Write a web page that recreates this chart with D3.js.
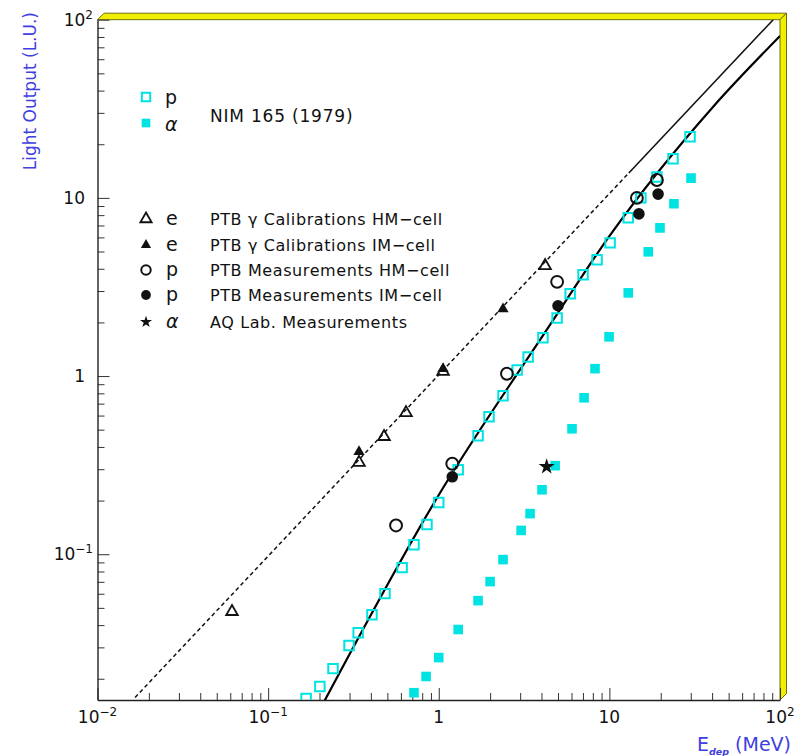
<!DOCTYPE html>
<html><head><meta charset="utf-8">
<script src="https://cdn.jsdelivr.net/npm/d3@7"></script>
<style>body{margin:0;background:#fff} svg{display:block} text{font-family:"DejaVu Sans",sans-serif}</style>
</head><body><svg id="c" width="809" height="756"></svg>
<script>
// ---------------- data (E in MeV, light output in L.U.) ----------------
const pNimE = [0.167,0.201,0.240,0.298,0.337,0.406,0.484,0.610,0.716,0.853,1.00,1.30,1.70,1.97,2.38,2.88,3.34,4.08,4.94,5.89,7.01,8.47,10.1,12.9,15.3,19.0,23.6,29.7];
const pNimL = [0.0155,0.0181,0.0228,0.0307,0.0363,0.0458,0.0601,0.0841,0.113,0.147,0.195,0.298,0.463,0.591,0.776,1.08,1.28,1.64,2.12,2.90,3.70,4.49,5.59,7.73,10.0,13.1,16.6,22.0];
const aNimE = [0.716,0.843,1.00,1.30,1.70,2.00,2.38,3.04,3.43,4.03,4.81,6.04,7.11,8.24,9.96,12.9,16.9,19.8,23.9,30.1];
const aNimL = [0.0167,0.0206,0.0263,0.0378,0.0549,0.0702,0.0933,0.136,0.169,0.230,0.314,0.506,0.755,1.10,1.66,2.93,4.98,6.79,9.26,12.9];
const eHmE = [0.0614,0.341,0.478,0.643,1.06,4.20];
const eHmL = [0.0476,0.327,0.457,0.622,1.06,4.16];
const eImE = [0.341,1.06,2.38];
const eImL = [0.376,1.10,2.38];
const pHmE = [0.562,1.20,2.51,4.94,14.5,19.0];
const pHmL = [0.145,0.322,1.03,3.38,10.0,12.6];
const pImE = [1.20,5.00,14.9,19.3];
const pImL = [0.272,2.48,8.13,10.5];
const aAqE = [4.29];
const aAqL = [0.310];
// fitted curves
const eFitDashE = [0.0166, 13];
const eFitDashL = [0.0157, 13.8];
const eFitSolidE = [13, 91.2];
const eFitSolidL = [13.8, 100];
const pFitE = [0.2, 1.0, 4.3, 10, 40.6, 100];
const pFitL = [0.0133, 0.215, 1.82, 6.1, 32.5, 81];
// tick labels
const xMajor = [0.01, 0.1, 1, 10, 100];
const xTickBase = ["10","10","1","10","10"];
const xTickSup = ["\u22122","\u22121","","","2"];
const yMajor = [0.1, 1, 10, 100];
const yTickBase = ["10","1","10","10"];
const yTickSup = ["\u22121","","","2"];
// legend
const legendNim = ["p", "\u03B1"];
const legendNimText = "NIM 165 (1979)";
const legendPtbSym = ["e","e","p","p","\u03B1"];
const legendPtbText = ["PTB \u03B3 Calibrations HM\u2212cell","PTB \u03B3 Calibrations IM\u2212cell","PTB Measurements HM\u2212cell","PTB Measurements IM\u2212cell","AQ Lab. Measurements"];

// ---------------- drawing ----------------
const svg = d3.select("#c");
const X0 = 97.5, X1 = 780, Y0 = 700, Y1 = 19.7;
const x = d3.scaleLog().domain([0.01, 100]).range([X0, X1]);
const y = d3.scaleLog().domain([0.0152, 100]).range([Y0, Y1]);
const CYAN = "#00e3e3", BLUE = "#4040e0";

svg.append("rect").attr("width",809).attr("height",756).attr("fill","#fff");

// frame bands (yellow bevel top and right)
const b = 6.5;
const band = (pts) => svg.append("polygon").attr("points", pts.map(p=>p.join(",")).join(" "))
  .attr("fill","#f2ee00").attr("stroke","#70700c").attr("stroke-width",1);
band([[X0,Y1],[X0+b,Y1-b],[X1+b,Y1-b],[X1,Y1]]);
band([[X1,Y1],[X1+b,Y1-b],[X1+b,Y0-b],[X1,Y0]]);

// clip
svg.append("clipPath").attr("id","clip").append("rect")
  .attr("x",X0).attr("y",Y1).attr("width",X1-X0).attr("height",Y0-Y1);

// axes
const minorX = []; for (let d=-2; d<2; d++) for (let k=2; k<10; k++) minorX.push(+(k*Math.pow(10,d)).toPrecision(3));
const minorY = []; for (let d=-2; d<2; d++) for (let k=2; k<10; k++) { const v = +(k*Math.pow(10,d)).toPrecision(3); if (v>0.0152) minorY.push(v); }

const gx = svg.append("g").attr("transform",`translate(0,${Y0})`);
gx.call(d3.axisBottom(x).tickValues(xMajor).tickSize(-12).tickSizeOuter(0).tickFormat(""));
gx.append("g").call(d3.axisBottom(x).tickValues(minorX).tickSize(-7).tickSizeOuter(0).tickFormat(""))
  .select(".domain").remove();
const gy = svg.append("g").attr("transform",`translate(${X0},0)`);
gy.call(d3.axisLeft(y).tickValues(yMajor).tickSize(-12).tickSizeOuter(0).tickFormat(""));
gy.append("g").call(d3.axisLeft(y).tickValues(minorY).tickSize(-7).tickSizeOuter(0).tickFormat(""))
  .select(".domain").remove();
svg.selectAll(".domain").attr("stroke","#222").attr("stroke-width",1.4);
svg.selectAll(".tick line").attr("stroke","#333").attr("stroke-width",1);

// tick labels
xMajor.forEach((v,i)=>{
  const t = svg.append("text").attr("x",x(v)).attr("y",723).attr("text-anchor","middle")
    .attr("font-size",17).attr("fill","#111").text(xTickBase[i]);
  if (xTickSup[i]) t.append("tspan").attr("dy",-7).attr("font-size",12).text(xTickSup[i]);
});
yMajor.forEach((v,i)=>{
  const t = svg.append("text").attr("x", yTickSup[i] ? 93 : 85).attr("y",y(v)+6).attr("text-anchor","end")
    .attr("font-size",17).attr("fill","#111").text(yTickBase[i]);
  if (yTickSup[i]) t.append("tspan").attr("dy",-7).attr("font-size",12).text(yTickSup[i]);
});

// axis titles
svg.append("text").attr("transform","translate(36,12) rotate(-90)").attr("text-anchor","end")
  .attr("font-size",17).attr("fill",BLUE).text("Light Output (L.U.)");
const xt = svg.append("text").attr("x",791).attr("y",751).attr("text-anchor","end")
  .attr("font-size",19).attr("fill",BLUE);
xt.append("tspan").text("E");
xt.append("tspan").attr("dy",4).attr("font-size",9.5).attr("font-weight","bold").attr("font-style","italic").text("dep");
xt.append("tspan").attr("dy",-4).text(" (MeV)");

// plot content
const plot = svg.append("g").attr("clip-path","url(#clip)");
const zip = (E,L) => E.map((e,i)=>[e,L[i]]);
const lineGen = d3.line().x(d=>x(d[0])).y(d=>y(d[1]));
plot.append("path").datum(zip(eFitDashE,eFitDashL)).attr("d",lineGen)
  .attr("fill","none").attr("stroke","#111").attr("stroke-width",1.5).attr("stroke-dasharray","4,3");
plot.append("path").datum(zip(eFitSolidE,eFitSolidL)).attr("d",lineGen)
  .attr("fill","none").attr("stroke","#111").attr("stroke-width",1.6);
plot.append("path").datum(zip(pFitE,pFitL)).attr("d",lineGen.curve(d3.curveMonotoneX))
  .attr("fill","none").attr("stroke","#000").attr("stroke-width",2.2);

function markers(E, L, type, size, fill, stroke, sw) {
  plot.append("g").selectAll("path").data(zip(E,L)).join("path")
    .attr("transform", d=>`translate(${x(d[0])},${y(d[1])})`)
    .attr("d", d3.symbol().type(type).size(size))
    .attr("fill", fill).attr("stroke", stroke).attr("stroke-width", sw);
}
markers(aNimE, aNimL, d3.symbolSquare, 92, CYAN, "none", 0);
markers(pNimE, pNimL, d3.symbolSquare, 90, "none", CYAN, 2);
markers(eHmE, eHmL, d3.symbolTriangle, 58, "none", "#111", 1.8);
markers(eImE, eImL, d3.symbolTriangle, 55, "#111", "none", 0);
markers(pHmE, pHmL, d3.symbolCircle, 110, "none", "#111", 2);
markers(pImE, pImL, d3.symbolCircle, 105, "#111", "none", 0);
markers(aAqE, aAqL, d3.symbolStar, 80, "#111", "none", 0);

// legend
const leg = svg.append("g");
const legSym = (cx, cy, type, size, fill, stroke, sw) => leg.append("path")
  .attr("transform",`translate(${cx},${cy})`).attr("d", d3.symbol().type(type).size(size))
  .attr("fill",fill).attr("stroke",stroke).attr("stroke-width",sw);
legSym(146, 97, d3.symbolSquare, 70, "none", CYAN, 2);
legSym(146, 123, d3.symbolSquare, 75, CYAN, "none", 0);
legendNim.forEach((s,i)=> leg.append("text").attr("x",165).attr("y",[104,131][i]).attr("font-size",19)
  .attr("font-style", i ? "italic" : "normal").attr("fill","#111").text(s));
leg.append("text").attr("x",210).attr("y",122).attr("font-size",17).attr("letter-spacing",0.8)
  .attr("fill","#111").text(legendNimText);
const rowsY = [219, 245, 270, 295, 322];
const symSpec = [
  [d3.symbolTriangle, 55, "none", "#111", 1.8],
  [d3.symbolTriangle, 45, "#111", "none", 0],
  [d3.symbolCircle, 70, "none", "#111", 2],
  [d3.symbolCircle, 75, "#111", "none", 0],
  [d3.symbolStar, 45, "#111", "none", 0]
];
rowsY.forEach((ry,i)=>{
  const s = symSpec[i];
  legSym(146, ry, s[0], s[1], s[2], s[3], s[4]);
  leg.append("text").attr("x",166).attr("y",ry+6).attr("font-size",19)
    .attr("font-style", legendPtbSym[i]==="\u03B1" ? "italic" : "normal").attr("fill","#111").text(legendPtbSym[i]);
  leg.append("text").attr("x",210).attr("y",ry+6).attr("font-size",16).attr("letter-spacing",0.6)
    .attr("fill","#111").text(legendPtbText[i]);
});
</script>
</body></html>
